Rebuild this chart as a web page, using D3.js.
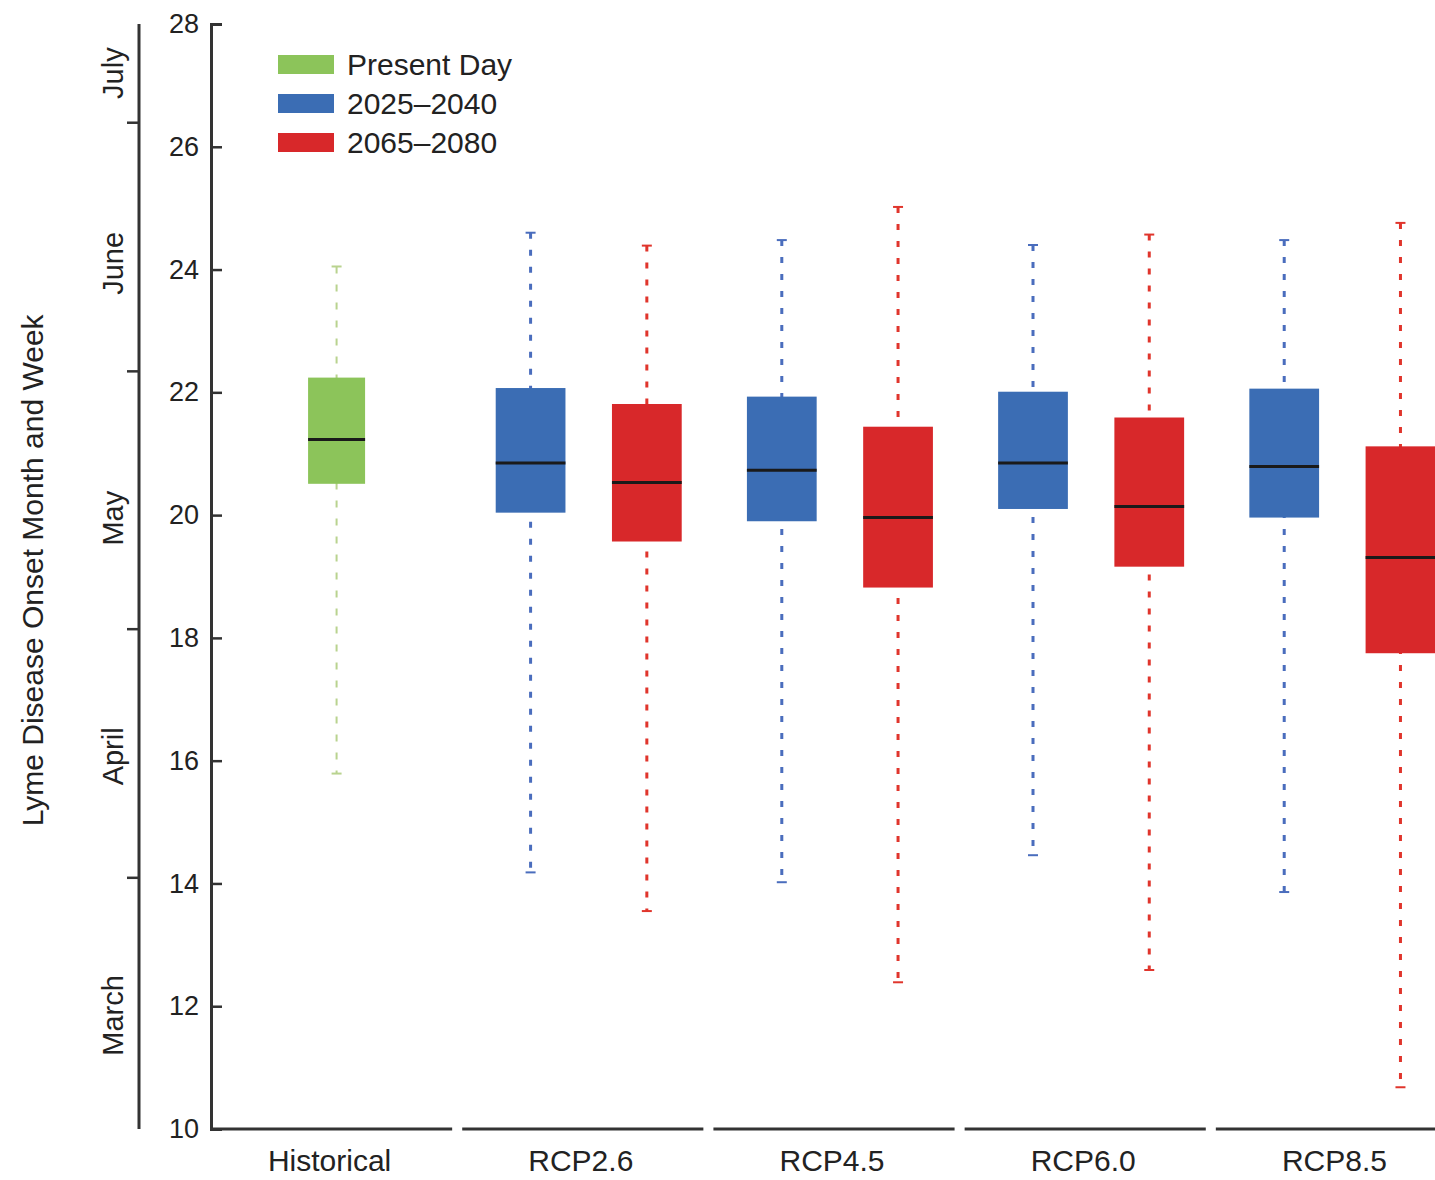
<!DOCTYPE html>
<meta charset="utf-8">
<script src="https://cdn.jsdelivr.net/npm/d3@7"></script>
<style>
  body { margin: 0; background: #fff; }
  svg text { font-family: "Liberation Sans", Arial, sans-serif; fill: #222; }
</style>
<body>
<script>

// categories and series
var groups = ["Historical", "RCP2.6", "RCP4.5", "RCP6.0", "RCP8.5"]
var periods = ["Present Day", "2025\u20132040", "2065\u20132080"]
var colors = ["#8cc45a", "#3b6db4", "#d8282a"]
var whiskerColors = ["#b9d38f", "#4a6dbd", "#e0352c"]

// [group, period, min, q1, median, q3, max]
var boxes = [
  ["Historical", "Present Day",      15.79, 20.51, 21.23, 22.24, 24.05],
  ["RCP2.6", "2025\u20132040",       14.18, 20.04, 20.85, 22.07, 24.60],
  ["RCP2.6", "2065\u20132080",       13.55, 19.57, 20.53, 21.81, 24.39],
  ["RCP4.5", "2025\u20132040",       14.02, 19.90, 20.73, 21.93, 24.48],
  ["RCP4.5", "2065\u20132080",       12.39, 18.82, 19.96, 21.44, 25.02],
  ["RCP6.0", "2025\u20132040",       14.46, 20.10, 20.85, 22.01, 24.40],
  ["RCP6.0", "2065\u20132080",       12.59, 19.16, 20.14, 21.59, 24.57],
  ["RCP8.5", "2025\u20132040",       13.86, 19.96, 20.79, 22.06, 24.48],
  ["RCP8.5", "2065\u20132080",       10.68, 17.75, 19.31, 21.12, 24.76]
]

var yTicks = [10, 12, 14, 16, 18, 20, 22, 24, 26, 28]
var monthBounds = [14.1, 18.15, 22.35, 26.4]
var monthNames = ["March", "April", "May", "June", "July"]
var monthCenters = [11.85, 16.07, 19.95, 24.1, 27.2]

var width = 1435
var height = 1180

var svg = d3.select("body").append("svg")
            .attr("width", width)
            .attr("height", height)

var y = d3.scaleLinear().domain([10, 28]).range([1129, 24])
var x = d3.scaleBand().domain(groups).range([211, 1457]).paddingInner(0.04)
var xs = d3.scaleBand().domain(periods.slice(1)).range([33.5, 219.5]).paddingInner(0.4)

// y axis (weeks)
var yAxis = svg.append("g")
   .attr("transform", "translate(211,0)")
   .call(d3.axisRight(y).tickValues(yTicks).tickSize(11).tickFormat(d3.format("d")))
yAxis.select(".domain").attr("stroke", "#333").attr("stroke-width", 3)
yAxis.selectAll(".tick line").attr("stroke", "#333").attr("stroke-width", 2.5)
yAxis.selectAll(".tick text")
     .attr("x", -12).attr("text-anchor", "end")
     .style("font-size", "27px").style("fill", "#222")

// month axis
var mAxis = svg.append("g")
   .attr("transform", "translate(139,0)")
   .call(d3.axisLeft(y).tickValues(monthBounds).tickSize(12).tickFormat(""))
mAxis.select(".domain").attr("stroke", "#333").attr("stroke-width", 3)
   .attr("d", "M0," + y(28) + "V" + y(10))
mAxis.selectAll(".tick line").attr("stroke", "#333").attr("stroke-width", 2.5)

svg.append("g").selectAll("text")
   .data(monthNames)
   .enter().append("text")
   .attr("transform", function(d, i) { return "translate(123," + y(monthCenters[i]) + ") rotate(-90)" })
   .attr("text-anchor", "middle")
   .style("font-size", "29px")
   .text(function(d) { return d })

svg.append("text")
   .attr("transform", "translate(43," + y(19.1) + ") rotate(-90)")
   .attr("text-anchor", "middle")
   .style("font-size", "30px")
   .text("Lyme Disease Onset Month and Week")

// x axis segments
svg.append("g").selectAll("line")
   .data(groups)
   .enter().append("line")
   .attr("x1", function(d) { return x(d) })
   .attr("x2", function(d) { return x(d) + x.bandwidth() })
   .attr("y1", y(10)).attr("y2", y(10))
   .attr("stroke", "#333").attr("stroke-width", 3)

svg.append("g").selectAll("text")
   .data(groups)
   .enter().append("text")
   .attr("x", function(d) { return x(d) + x.bandwidth() / 2 - 2 })
   .attr("y", 1171)
   .attr("text-anchor", "middle")
   .style("font-size", "30px")
   .text(function(d) { return d })

// boxes
function centerOf(b) {
  if (b[0] == "Historical") return x(b[0]) + x.bandwidth() / 2 + 5
  return x(b[0]) + xs(b[1]) + xs.bandwidth() / 2
}
function widthOf(b) {
  return b[0] == "Historical" ? 57 : xs.bandwidth()
}

var g = svg.append("g").selectAll("g")
   .data(boxes)
   .enter().append("g")

g.append("line")
 .attr("x1", centerOf).attr("x2", centerOf)
 .attr("y1", function(b) { return y(b[6]) })
 .attr("y2", function(b) { return y(b[2]) })
 .attr("stroke", function(b) { return whiskerColors[periods.indexOf(b[1])] })
 .attr("stroke-width", function(b) { return b[0] == "Historical" ? 2 : 3 })
 .attr("stroke-dasharray", function(b) { return b[0] == "Historical" ? "7,11" : "6,11" })

g.selectAll(".cap")
 .data(function(b) { return [[b, b[2]], [b, b[6]]] })
 .enter().append("line")
 .attr("class", "cap")
 .attr("x1", function(d) { return centerOf(d[0]) - 5 })
 .attr("x2", function(d) { return centerOf(d[0]) + 5 })
 .attr("y1", function(d) { return y(d[1]) })
 .attr("y2", function(d) { return y(d[1]) })
 .attr("stroke", function(d) { return whiskerColors[periods.indexOf(d[0][1])] })
 .attr("stroke-width", 2)

g.append("rect")
 .attr("x", function(b) { return centerOf(b) - widthOf(b) / 2 })
 .attr("width", widthOf)
 .attr("y", function(b) { return y(b[5]) })
 .attr("height", function(b) { return y(b[3]) - y(b[5]) })
 .attr("fill", function(b) { return colors[periods.indexOf(b[1])] })

g.append("line")
 .attr("x1", function(b) { return centerOf(b) - widthOf(b) / 2 })
 .attr("x2", function(b) { return centerOf(b) + widthOf(b) / 2 })
 .attr("y1", function(b) { return y(b[4]) })
 .attr("y2", function(b) { return y(b[4]) })
 .attr("stroke", "#1a1a1a").attr("stroke-width", 3)

// legend
var leg = svg.append("g").selectAll("g")
   .data(periods)
   .enter().append("g")
   .attr("transform", function(d, i) { return "translate(278," + (55 + i * 39) + ")" })

leg.append("rect")
   .attr("width", 56).attr("height", 19)
   .attr("fill", function(d, i) { return colors[i] })

leg.append("text")
   .attr("x", 69).attr("y", 20)
   .style("font-size", "30px")
   .text(function(d) { return d })

</script>
</body>
